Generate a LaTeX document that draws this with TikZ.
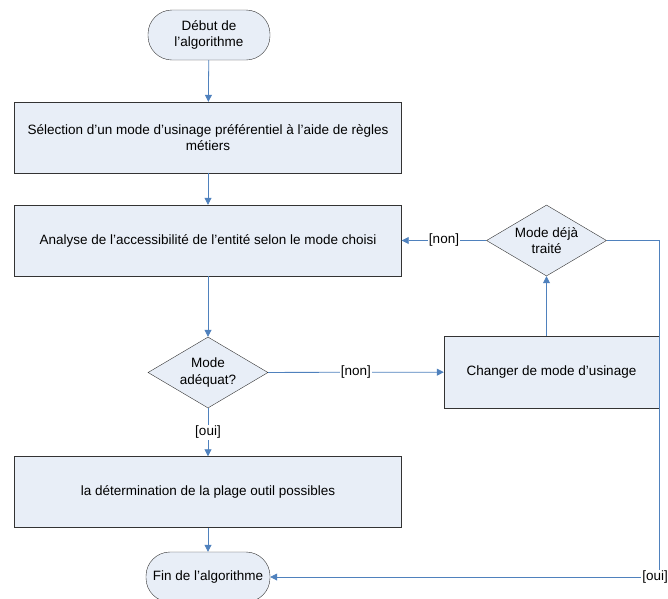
\documentclass[tikz,border=0pt]{standalone}
\usepackage{fontspec}
\setmainfont{Liberation Sans}
\usetikzlibrary{shapes.geometric,arrows.meta}
\definecolor{flowblue}{HTML}{4F81BD}
\definecolor{boxfill}{HTML}{E8EEF7}

\begin{document}
\begin{tikzpicture}[x=1pt,y=-1pt,
  font=\fontsize{13.5}{16.5}\selectfont,
  box/.style={draw=black!80, fill=boxfill, minimum width=387pt, minimum height=71pt, align=center, inner sep=0pt},
  term/.style={draw=black!80, fill=boxfill, rounded corners=24pt, minimum width=122pt, minimum height=50pt, align=center, inner sep=0pt},
  decision/.style={draw=black!80, fill=boxfill, diamond, aspect=1.7, minimum width=120pt, minimum height=71pt, align=center, inner sep=0pt},
  flow/.style={draw=flowblue, line width=0.8pt, -{Triangle[length=7pt,width=7pt]}},
  lbl/.style={fill=white, inner sep=1pt}]
\useasboundingbox (0,0) rectangle (668,598);

% Nodes
\node[term] (debut) at (209,35) {Début de\\l'algorithme};
\node[box] (selection) at (208,137.5) {Sélection d'un mode d'usinage préférentiel à l'aide de règles\\métiers};
\node[box] (analyse) at (208,240.5) {Analyse de l'accessibilité de l'entité selon le mode choisi};
\node[decision] (adequat) at (208,372.5) {Mode\\adéquat?};
\node[box, minimum width=215pt, minimum height=72pt] (changer) at (551.5,372) {Changer de mode d'usinage};
\node[decision] (traite) at (546.5,240.5) {Mode déjà\\traité};
\node[box] (plage) at (208,492) {la détermination de la plage outil possibles};
\node[term, minimum width=124pt] (fin) at (208,577) {Fin de l'algorithme};
\coordinate (droite) at (659,0);

% Connectors
\draw[flow] (debut) -- (selection);
\draw[flow] (selection) -- (analyse);
\draw[flow] (analyse) -- (adequat);
\draw[flow] (adequat) -- node[lbl]{[non]} (changer);
\draw[flow] (adequat) -- node[lbl]{[oui]} (plage);
\draw[flow] (plage) -- (fin);
\draw[flow] (changer.north -| traite) -- (traite);
\draw[flow] (traite) -- node[lbl]{[non]} (analyse);
\draw[flow] (traite.east) -| (droite |- fin) -- node[lbl, pos=0.01]{[oui]} (fin);
\end{tikzpicture}
\end{document}
